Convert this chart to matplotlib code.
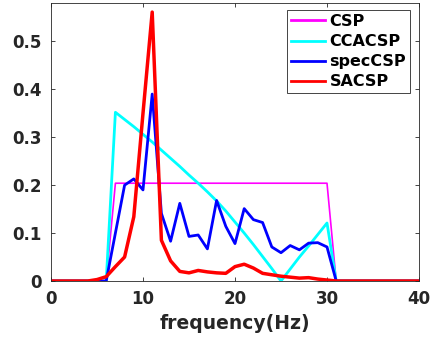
import numpy as np
import matplotlib.pyplot as plt

# ----------------------------
# Data
# ----------------------------
freq = np.arange(0, 41)

csp = [0, 0, 0, 0, 0, 0, 0, 0.204, 0.204, 0.204, 0.204,
       0.204, 0.204, 0.204, 0.204, 0.204, 0.204, 0.204, 0.204, 0.204, 0.204,
       0.204, 0.204, 0.204, 0.204, 0.204, 0.204, 0.204, 0.204, 0.204, 0.204,
       0, 0, 0, 0, 0, 0, 0, 0, 0, 0]

ccacsp = [0, 0, 0, 0, 0, 0, 0, 0.352, 0.337, 0.322, 0.306,
          0.290, 0.273, 0.256, 0.239, 0.221, 0.204, 0.186, 0.167, 0.146, 0.123,
          0.100, 0.076, 0.051, 0.026, 0.0, 0.025, 0.050, 0.073, 0.097, 0.121,
          0, 0, 0, 0, 0, 0, 0, 0, 0, 0]

speccsp = [0, 0, 0, 0, 0, 0, 0, 0.100, 0.200, 0.213, 0.190,
           0.390, 0.141, 0.083, 0.162, 0.093, 0.096, 0.067, 0.168, 0.114, 0.078,
           0.151, 0.128, 0.122, 0.071, 0.059, 0.074, 0.065, 0.079, 0.080, 0.071,
           0, 0, 0, 0, 0, 0, 0, 0, 0, 0]

sacsp = [0, 0, 0, 0, 0, 0.003, 0.009, 0.030, 0.050, 0.134, 0.350,
         0.561, 0.085, 0.042, 0.020, 0.017, 0.022, 0.019, 0.017, 0.016, 0.030,
         0.035, 0.027, 0.016, 0.013, 0.010, 0.008, 0.006, 0.007, 0.004, 0.002,
         0, 0, 0, 0, 0, 0, 0, 0, 0, 0]

dark = "#262626"

# ----------------------------
# Plot
# ----------------------------
fig = plt.figure(figsize=(4.33, 3.37), dpi=100)
ax = fig.add_axes([51/433, 1 - 281/337, 368/433, 278/337])

ax.plot(freq, csp, color="#ff00ff", lw=1.2, label="CSP")
ax.plot(freq, ccacsp, color="#00ffff", lw=2.0, label="CCACSP")
ax.plot(freq, speccsp, color="#0000ff", lw=2.0, label="specCSP")
ax.plot(freq, sacsp, color="#ff0000", lw=2.5, label="SACSP")

ax.set_xlim(0, 40)
ax.set_ylim(0, 0.58)
ax.set_xticks([0, 10, 20, 30, 40])
ax.set_yticks([0, 0.1, 0.2, 0.3, 0.4, 0.5])
ax.set_yticklabels(["0", "0.1", "0.2", "0.3", "0.4", "0.5"])

ax.tick_params(direction="in", length=3, width=0.6, top=True, right=True,
               colors=dark, labelsize=12, pad=6.5)
for lab in ax.get_xticklabels() + ax.get_yticklabels():
    lab.set_fontweight("bold")
for sp in ax.spines.values():
    sp.set_color(dark)
    sp.set_linewidth(0.6)

ax.set_xlabel("frequency(Hz)", fontsize=13.5, fontweight="bold", color=dark,
              labelpad=4)

leg = ax.legend(loc="upper right", bbox_to_anchor=(1 - 9/368, 1 - 7/278),
                borderaxespad=0, prop={"weight": "bold", "size": 11.5},
                handlelength=2.1, handletextpad=0.3, labelspacing=0.32,
                borderpad=0.25, fancybox=False, framealpha=1)
leg.get_frame().set_edgecolor(dark)
leg.get_frame().set_linewidth(0.6)
for line in leg.get_lines():
    line.set_linewidth(2.0)

plt.savefig("out.png", dpi=100)
